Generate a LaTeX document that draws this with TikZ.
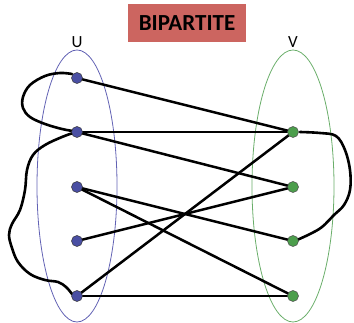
\documentclass[tikz,border=0pt]{standalone}
\usepackage{fontspec}
\setmainfont{Carlito}
\pgfdeclarelayer{bg}
\pgfsetlayers{bg,main}
\begin{document}
\begin{tikzpicture}[x=1pt,y=-1pt,
  ublob/.style={circle,draw=black!80,line width=0.5pt,fill=ublue,minimum size=11pt,inner sep=0pt},
  vblob/.style={circle,draw=black!70,line width=0.5pt,fill=vgreen,minimum size=11pt,inner sep=0pt},
  edge/.style={line width=2.5pt,draw=black},
  cut/.style={line width=2.6pt,draw=black,line cap=round,line join=round},
  lbl/.style={font=\fontsize{17}{17}\selectfont,inner sep=0pt}]
\definecolor{ublue}{HTML}{4A4FA3}
\definecolor{vgreen}{HTML}{4C9E4C}
\definecolor{uring}{HTML}{6262B4}
\definecolor{vring}{HTML}{6AAE6A}
\definecolor{titlered}{HTML}{CC6560}
\useasboundingbox (0,0) rectangle (354,323);
% title
\node[fill=titlered,minimum width=118pt,minimum height=38pt,inner sep=0pt,
  font=\fontsize{23}{23}\selectfont\bfseries] (title) at (187,23) {BIPARTITE};
% nodes
\node[ublob] (u1) at (77,78) {};
\node[ublob] (u2) at (77,132) {};
\node[ublob] (u3) at (77,187) {};
\node[ublob] (u4) at (77,241) {};
\node[ublob] (u5) at (77,296) {};
\node[vblob] (v1) at (293,132) {};
\node[vblob] (v2) at (293,187) {};
\node[vblob] (v3) at (293,241) {};
\node[vblob] (v4) at (293,296) {};
\node[lbl] (lu) at (77,42) {U};
\node[lbl] (lv) at (293,42) {V};
\begin{pgfonlayer}{bg}
% ellipses
\draw[uring,line width=0.8pt] (77,186) ellipse [x radius=40,y radius=136];
\draw[vring,line width=0.8pt] (293,186) ellipse [x radius=41,y radius=136];
% cut curves
\draw[cut] plot[smooth,tension=0.6] coordinates {(72,74) (60,73) (45,76) (30,85) (23,97) (23,108) (30,117) (45,124) (62,129) (73,131)};
\draw[cut] plot[smooth,tension=0.6] coordinates {(73,133) (62,137) (45,145) (33,155) (27,170) (25,190) (20,210) (12,224) (9,235) (12,248) (18,262) (30,274) (45,280) (58,282) (66,287) (72,294)};
\draw[cut] plot[smooth,tension=0.6] coordinates {(297,240) (310,234) (322,227) (334,215) (344,205) (350,190) (350,170) (345,150) (336,136) (320,133) (300,132)};
% edges
\draw[edge] (u1.center) -- (v1.center);
\draw[edge] (u2.center) -- (v1.center);
\draw[edge] (u2.center) -- (v2.center);
\draw[edge] (u3.center) -- (v3.center);
\draw[edge] (u3.center) -- (v4.center);
\draw[edge] (u4.center) -- (v2.center);
\draw[edge] (u5.center) -- (v1.center);
\draw[edge] (u5.center) -- (v4.center);
\end{pgfonlayer}
\end{tikzpicture}
\end{document}
